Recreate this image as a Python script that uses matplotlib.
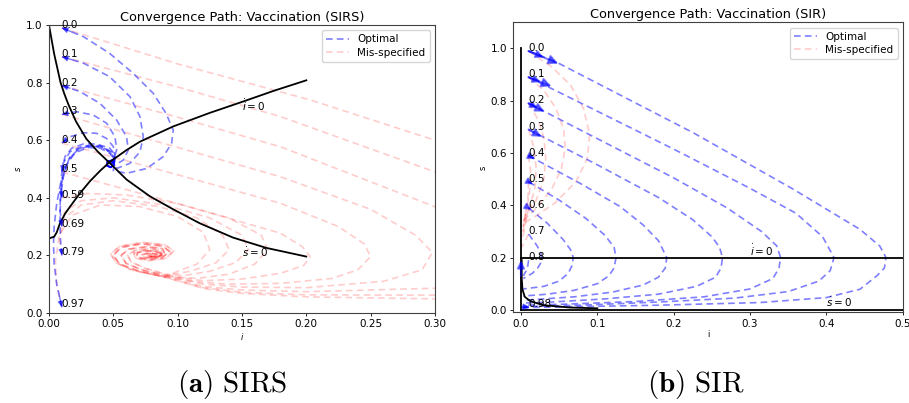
import numpy as np
import matplotlib
matplotlib.use("Agg")
import matplotlib.pyplot as plt
from matplotlib.lines import Line2D

plt.rcParams['mathtext.fontset'] = 'dejavusans'

# ---------------- SIRS panel data ----------------
SIRS_LABELS = ['0.0', '0.1', '0.2', '0.3', '0.4', '0.5', '0.59', '0.69', '0.79', '0.97']
SIRS_I0 = [0.01] * 10
SIRS_S0 = [0.99, 0.89, 0.79, 0.69, 0.59, 0.49, 0.40, 0.30, 0.20, 0.02]

SIRS_SDOT_I = [0, 0.002, 0.004, 0.0065, 0.009, 0.012, 0.015, 0.021, 0.029, 0.038, 0.0474, 0.0604, 0.0785, 0.0966, 0.117, 0.143, 0.169, 0.2]
SIRS_SDOT_S = [1.0, 0.95, 0.9, 0.85, 0.80, 0.76, 0.725, 0.665, 0.605, 0.56, 0.52, 0.463, 0.405, 0.36, 0.312, 0.262, 0.226, 0.196]
SIRS_IDOT_I = [0, 0.004, 0.006, 0.0085, 0.0125, 0.0163, 0.0241, 0.0319, 0.04, 0.0474, 0.06, 0.0707, 0.0966, 0.125, 0.15, 0.175, 0.2]
SIRS_IDOT_S = [0.259, 0.265, 0.28, 0.311, 0.345, 0.369, 0.416, 0.458, 0.495, 0.525, 0.565, 0.595, 0.648, 0.695, 0.733, 0.772, 0.808]

SIRS_OPT_TAIL = [(0.0505, 0.515), (0.048, 0.506), (0.045, 0.512), (0.0455, 0.526), (0.049, 0.53), (0.0505, 0.522), (0.048, 0.519)]
SIRS_OPT = [
    [(0.01, 0.99), (0.027, 0.959), (0.047, 0.902), (0.0655, 0.832), (0.081, 0.763), (0.091, 0.693), (0.0966, 0.635), (0.0953, 0.589), (0.0888, 0.543), (0.076, 0.502), (0.0603, 0.485), (0.05, 0.495)],
    [(0.01, 0.89), (0.027, 0.867), (0.047, 0.821), (0.063, 0.751), (0.0707, 0.682), (0.0733, 0.612), (0.0707, 0.56), (0.063, 0.52), (0.0526, 0.502)],
    [(0.01, 0.79), (0.024, 0.769), (0.0396, 0.728), (0.0526, 0.67), (0.0603, 0.612), (0.0616, 0.566), (0.0578, 0.531), (0.0513, 0.514)],
    [(0.01, 0.69), (0.0215, 0.699), (0.0344, 0.6875), (0.0448, 0.659), (0.0513, 0.612), (0.0526, 0.566), (0.05, 0.531)],
    [(0.01, 0.59), (0.0163, 0.612), (0.0267, 0.626), (0.037, 0.624), (0.0448, 0.606), (0.05, 0.578), (0.0513, 0.543)],
    [(0.01, 0.49), (0.0124, 0.543), (0.0176, 0.572), (0.0267, 0.587), (0.037, 0.587), (0.0474, 0.572), (0.0513, 0.549)],
    [(0.01, 0.40), (0.0093, 0.462), (0.011, 0.52), (0.0163, 0.56), (0.0267, 0.581), (0.0396, 0.581), (0.0487, 0.56), (0.0513, 0.535)],
    [(0.01, 0.30), (0.0085, 0.36), (0.009, 0.42), (0.011, 0.48), (0.016, 0.54), (0.024, 0.572), (0.034, 0.58), (0.044, 0.57), (0.05, 0.545)],
    [(0.01, 0.20), (0.009, 0.25), (0.0085, 0.32), (0.009, 0.40), (0.011, 0.47), (0.015, 0.53), (0.022, 0.568), (0.03, 0.58), (0.04, 0.578), (0.047, 0.56), (0.051, 0.535)],
    [(0.01, 0.02), (0.006, 0.10), (0.004, 0.17), (0.0035, 0.24), (0.004, 0.30), (0.006, 0.38), (0.009, 0.45), (0.013, 0.51), (0.02, 0.555), (0.03, 0.575), (0.04, 0.572), (0.047, 0.555), (0.051, 0.535)],
]

# spiral endings of the mis-specified SIRS paths (four read variants)
SIRS_TAIL_A = [(0.09, 0.125), (0.07, 0.145), (0.055, 0.17), (0.05, 0.2), (0.056, 0.228), (0.072, 0.24), (0.088, 0.233), (0.094, 0.213), (0.088, 0.193), (0.077, 0.186), (0.068, 0.195), (0.069, 0.21), (0.078, 0.216), (0.087, 0.208), (0.085, 0.197), (0.079, 0.196), (0.08, 0.2)]
SIRS_TAIL_B = [(0.09, 0.13), (0.072, 0.15), (0.06, 0.172), (0.056, 0.2), (0.062, 0.222), (0.076, 0.23), (0.088, 0.224), (0.09, 0.206), (0.084, 0.193), (0.075, 0.192), (0.072, 0.202), (0.078, 0.209), (0.084, 0.204), (0.081, 0.198), (0.08, 0.2)]
SIRS_TAIL_C = [(0.09, 0.135), (0.075, 0.155), (0.064, 0.177), (0.061, 0.2), (0.067, 0.218), (0.079, 0.224), (0.087, 0.216), (0.088, 0.203), (0.082, 0.195), (0.076, 0.197), (0.076, 0.205), (0.082, 0.205), (0.08, 0.2)]
SIRS_TAIL_D = [(0.085, 0.13), (0.065, 0.148), (0.052, 0.175), (0.048, 0.205), (0.055, 0.232), (0.073, 0.245), (0.09, 0.237), (0.097, 0.215), (0.091, 0.19), (0.078, 0.182), (0.067, 0.19), (0.066, 0.208), (0.075, 0.218), (0.086, 0.213), (0.088, 0.2), (0.081, 0.194), (0.077, 0.2), (0.08, 0.202)]
SIRS_TAIL_OF = ['A', 'D', 'B', 'C', 'A', 'B', 'D', 'C', 'B', 'A']

SIRS_MIS = [
    [(0.01, 0.99), (0.1, 0.865), (0.203, 0.74), (0.3, 0.60), (0.36, 0.48), (0.39, 0.3), (0.38, 0.12), (0.3, 0.049), (0.2, 0.056), (0.15, 0.068), (0.12, 0.085)],
    [(0.01, 0.89), (0.1, 0.785), (0.18, 0.682), (0.3, 0.49), (0.34, 0.35), (0.345, 0.2), (0.33, 0.1), (0.3, 0.062), (0.2, 0.063), (0.15, 0.072), (0.12, 0.088)],
    [(0.01, 0.79), (0.1, 0.68), (0.18, 0.577), (0.3, 0.369), (0.32, 0.25), (0.315, 0.15), (0.3, 0.086), (0.2, 0.074), (0.15, 0.08), (0.12, 0.092)],
    [(0.01, 0.69), (0.1, 0.575), (0.18, 0.473), (0.25, 0.36), (0.285, 0.27), (0.298, 0.21), (0.29, 0.15), (0.26, 0.11), (0.2, 0.088), (0.15, 0.09), (0.12, 0.1)],
    [(0.01, 0.59), (0.1, 0.48), (0.18, 0.381), (0.225, 0.3), (0.245, 0.24), (0.25, 0.196), (0.24, 0.15), (0.22, 0.12), (0.18, 0.103), (0.14, 0.1), (0.115, 0.108)],
    [(0.01, 0.49), (0.1, 0.38), (0.18, 0.277), (0.197, 0.23), (0.203, 0.196), (0.198, 0.165), (0.18, 0.138), (0.15, 0.118), (0.12, 0.112)],
    [(0.01, 0.40), (0.03, 0.415), (0.06, 0.41), (0.1, 0.38), (0.14, 0.33), (0.165, 0.27), (0.17, 0.22), (0.16, 0.17), (0.14, 0.135), (0.115, 0.12)],
    [(0.01, 0.30), (0.012, 0.35), (0.025, 0.39), (0.05, 0.40), (0.09, 0.375), (0.125, 0.33), (0.15, 0.27), (0.155, 0.22), (0.145, 0.175), (0.125, 0.145), (0.105, 0.13)],
    [(0.01, 0.20), (0.008, 0.26), (0.012, 0.33), (0.025, 0.375), (0.05, 0.39), (0.085, 0.37), (0.115, 0.33), (0.135, 0.27), (0.14, 0.22), (0.13, 0.175), (0.11, 0.145)],
    [(0.01, 0.02), (0.006, 0.1), (0.005, 0.18), (0.008, 0.27), (0.018, 0.34), (0.04, 0.375), (0.07, 0.37), (0.1, 0.335), (0.12, 0.28), (0.125, 0.22), (0.115, 0.17), (0.1, 0.145)],
]

# ---------------- SIR panel data ----------------
SIR_LABELS = ['0.0', '0.1', '0.2', '0.3', '0.4', '0.5', '0.6', '0.7', '0.8', '0.98']
SIR_I0 = [0.01] * 10
SIR_S0 = [0.99, 0.89, 0.79, 0.69, 0.59, 0.49, 0.39, 0.29, 0.19, 0.01]

SIR_CORNER_I = [0.001, 0.001, 0.002, 0.005, 0.012, 0.029, 0.064, 0.1]
SIR_CORNER_S = [0.19, 0.12, 0.078, 0.05, 0.034, 0.018, 0.009, 0.006]

SIR_OPT = [
    [(0.01, 0.99), (0.047, 0.947), (0.226, 0.677), (0.357, 0.461), (0.444, 0.308), (0.47, 0.244), (0.478, 0.2), (0.476, 0.16), (0.466, 0.13), (0.444, 0.079), (0.40, 0.047), (0.313, 0.028), (0.182, 0.018), (0.05, 0.011), (0.003, 0.009)],
    [(0.01, 0.89), (0.1, 0.76), (0.2, 0.615), (0.3, 0.465), (0.36, 0.37), (0.395, 0.28), (0.41, 0.2), (0.405, 0.15), (0.39, 0.11), (0.35, 0.07), (0.28, 0.045), (0.18, 0.03), (0.08, 0.018), (0.003, 0.013)],
    [(0.01, 0.79), (0.1, 0.655), (0.2, 0.505), (0.27, 0.39), (0.315, 0.3), (0.335, 0.245), (0.34, 0.2), (0.338, 0.16), (0.33, 0.12), (0.3, 0.08), (0.24, 0.05), (0.15, 0.032), (0.06, 0.022), (0.003, 0.018)],
    [(0.01, 0.69), (0.1, 0.555), (0.18, 0.43), (0.225, 0.345), (0.25, 0.28), (0.26, 0.24), (0.264, 0.2), (0.262, 0.16), (0.255, 0.125), (0.23, 0.09), (0.18, 0.06), (0.11, 0.042), (0.04, 0.03), (0.003, 0.026)],
    [(0.01, 0.59), (0.08, 0.48), (0.13, 0.395), (0.16, 0.325), (0.18, 0.265), (0.191, 0.2), (0.189, 0.16), (0.18, 0.125), (0.16, 0.095), (0.12, 0.068), (0.07, 0.05), (0.02, 0.04), (0.003, 0.037)],
    [(0.01, 0.49), (0.05, 0.42), (0.085, 0.35), (0.11, 0.285), (0.122, 0.24), (0.1245, 0.2), (0.122, 0.16), (0.115, 0.13), (0.1, 0.1), (0.07, 0.075), (0.035, 0.06), (0.003, 0.053)],
    [(0.01, 0.39), (0.035, 0.33), (0.055, 0.27), (0.065, 0.23), (0.0685, 0.2), (0.067, 0.17), (0.062, 0.14), (0.05, 0.11), (0.03, 0.09), (0.003, 0.08)],
    [(0.01, 0.29), (0.02, 0.25), (0.026, 0.22), (0.027, 0.2), (0.026, 0.18), (0.022, 0.16), (0.015, 0.14), (0.003, 0.12)],
    [(0.01, 0.19), (0.009, 0.17), (0.007, 0.15), (0.003, 0.13)],
    [(0.01, 0.01), (0.005, 0.009), (0.001, 0.008)],
]

SIR_MIS = [
    [(0.01, 0.99), (0.04, 0.93), (0.065, 0.86), (0.082, 0.77), (0.09, 0.67), (0.087, 0.58), (0.072, 0.49), (0.045, 0.41), (0.02, 0.36), (0.003, 0.33)],
    [(0.01, 0.89), (0.03, 0.84), (0.046, 0.77), (0.056, 0.69), (0.058, 0.62), (0.053, 0.54), (0.04, 0.46), (0.02, 0.39), (0.003, 0.34)],
    [(0.01, 0.79), (0.022, 0.73), (0.03, 0.66), (0.0325, 0.58), (0.03, 0.5), (0.02, 0.42), (0.006, 0.36), (0.002, 0.33)],
    [(0.01, 0.69), (0.017, 0.62), (0.02, 0.54), (0.018, 0.46), (0.01, 0.38), (0.003, 0.32)],
    [(0.01, 0.59), (0.013, 0.52), (0.011, 0.44), (0.006, 0.37), (0.002, 0.3)],
    [(0.01, 0.49), (0.009, 0.42), (0.005, 0.35), (0.002, 0.28)],
    [(0.01, 0.39), (0.006, 0.33), (0.002, 0.27)],
    [(0.01, 0.29), (0.005, 0.26), (0.001, 0.24)],
]

# arrows on the SIR panel: (tail_i, tail_s, head_i, head_s, size)
SIR_ARROWS = [
    (0.01, 0.99, 0.049, 0.942, 14), (0.01, 0.99, 0.03, 0.966, 11),
    (0.01, 0.89, 0.040, 0.855, 14), (0.01, 0.89, 0.026, 0.871, 11),
    (0.01, 0.79, 0.031, 0.758, 13), (0.01, 0.79, 0.022, 0.772, 10),
    (0.01, 0.69, 0.027, 0.662, 12),
    (0.01, 0.59, 0.019, 0.577, 10),
    (0.01, 0.49, 0.016, 0.48, 9),
    (0.01, 0.39, 0.014, 0.383, 9),
    (0.0, 0.13, 0.0, 0.19, 11),
    (0.002, 0.012, 0.012, 0.010, 8),
]

BLUE = (0, 0, 1, 0.5)
RED = (1, 0, 0, 0.2)
FS = 7.5
DASH = (0, (4, 2.5))

fig = plt.figure(figsize=(9.09, 4.03), dpi=100)
ax1 = fig.add_axes([0.0539, 0.2233, 0.4246, 0.7146])
ax2 = fig.add_axes([0.5647, 0.2246, 0.4284, 0.720])


def draw_path(ax, pts, color, lw=1.2):
    xs = [p[0] for p in pts]
    ys = [p[1] for p in pts]
    ax.plot(xs, ys, linestyle=DASH, color=color, lw=lw)


# ---- SIRS ----
tails = {'A': SIRS_TAIL_A, 'B': SIRS_TAIL_B, 'C': SIRS_TAIL_C, 'D': SIRS_TAIL_D}
for path, key in zip(SIRS_MIS, SIRS_TAIL_OF):
    draw_path(ax1, path + tails[key], RED)
for path in SIRS_OPT:
    draw_path(ax1, path + SIRS_OPT_TAIL, BLUE)
    p0, p1 = path[0], path[1]
    tail = (p0[0] + 0.45 * (p1[0] - p0[0]), p0[1] + 0.45 * (p1[1] - p0[1]))
    ax1.annotate('', xy=p0, xytext=tail,
                 arrowprops=dict(arrowstyle='-|>', color=BLUE, lw=1.0,
                                 mutation_scale=8, shrinkA=0, shrinkB=0))
ax1.plot(SIRS_SDOT_I, SIRS_SDOT_S, color='black', lw=1.3)
ax1.plot(SIRS_IDOT_I, SIRS_IDOT_S, color='black', lw=1.3)
for lab, i0, s0 in zip(SIRS_LABELS, SIRS_I0, SIRS_S0):
    ax1.text(i0, s0, lab, fontsize=FS)
ax1.text(0.15, 0.70, r'$\dot{i} = 0$', fontsize=FS)
ax1.text(0.15, 0.195, r'$\dot{s} = 0$', fontsize=FS)
ax1.set_xlim(0, 0.3)
ax1.set_ylim(0, 1.0)
ax1.set_title('Convergence Path: Vaccination (SIRS)', fontsize=9.3, pad=3)
ax1.set_xlabel('$i$', fontsize=6, labelpad=1)
ax1.set_ylabel('$s$', fontsize=6, labelpad=2)

# ---- SIR ----
for path in SIR_MIS:
    draw_path(ax2, path, RED)
for path in SIR_OPT:
    draw_path(ax2, path, BLUE)
for ti, ts, hi, hs, ms in SIR_ARROWS:
    ax2.annotate('', xy=(hi, hs), xytext=(ti, ts),
                 arrowprops=dict(arrowstyle='-|>', color=BLUE, lw=1.5,
                                 mutation_scale=ms, shrinkA=0, shrinkB=0))
ax2.plot([0, 0], [0, 1.0], color='black', lw=1.3)
ax2.plot([0, 0.5], [0.2, 0.2], color='black', lw=1.3)
ax2.plot([0, 0.5], [0.0, 0.0], color='black', lw=1.3)
ax2.plot(SIR_CORNER_I, SIR_CORNER_S, color='black', lw=1.3)
for lab, i0, s0 in zip(SIR_LABELS, SIR_I0, SIR_S0):
    ax2.text(i0, s0, lab, fontsize=FS)
ax2.text(0.3, 0.205, r'$\dot{i} = 0$', fontsize=FS)
ax2.text(0.4, 0.01, r'$\dot{s} = 0$', fontsize=FS)
ax2.set_xlim(-0.01, 0.5)
ax2.set_ylim(-0.01, 1.1)
ax2.set_title('Convergence Path: Vaccination (SIR)', fontsize=9.3, pad=3)
ax2.set_xlabel('i', fontsize=6, labelpad=1)
ax2.set_ylabel('s', fontsize=6, labelpad=2)
ax2.set_xticks([0.0, 0.1, 0.2, 0.3, 0.4, 0.5])
ax2.set_yticks([0.0, 0.2, 0.4, 0.6, 0.8, 1.0])

for ax in (ax1, ax2):
    ax.tick_params(labelsize=FS, length=2.5, width=0.6, pad=2)
    for sp in ax.spines.values():
        sp.set_linewidth(0.8)
        sp.set_color('0.25')
    handles = [Line2D([], [], linestyle=DASH, color=BLUE, lw=1.2),
               Line2D([], [], linestyle=DASH, color=RED, lw=1.2)]
    ax.legend(handles, ['Optimal', 'Mis-specified'], loc='upper right', fontsize=FS,
              handlelength=2.2, borderpad=0.4, labelspacing=0.3, framealpha=0.8)

fig.text(0.255, 0.045, r'$\mathbf{(a)}\ \mathrm{SIRS}$', ha='center', va='center',
         fontsize=21, math_fontfamily='cm')
fig.text(0.765, 0.045, r'$\mathbf{(b)}\ \mathrm{SIR}$', ha='center', va='center',
         fontsize=21, math_fontfamily='cm')

fig.savefig('out.png', dpi=100)
